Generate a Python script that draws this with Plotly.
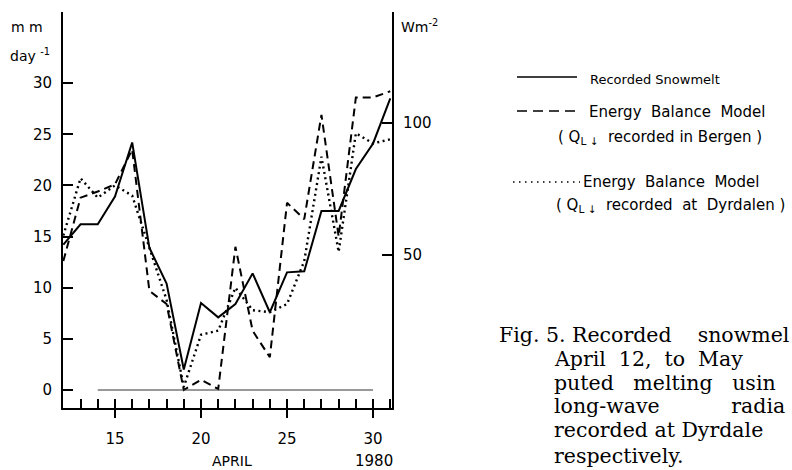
import plotly.graph_objects as go

# ---- data ----
days = list(range(12, 32))
recorded_snowmelt = [14.2, 16.2, 16.2, 18.9, 24.2, 13.9, 10.4, 2.0, 8.5, 7.1,
                     8.4, 11.4, 7.6, 11.5, 11.6, 17.5, 17.5, 21.6, 24.1, 28.5]
ebm_bergen = [12.6, 18.8, 19.4, 20.1, 23.5, 9.7, 8.4, 0.0, 1.0, 0.1,
              14.0, 5.8, 3.2, 18.3, 16.7, 26.9, 15.0, 28.6, 28.6, 29.2]
ebm_dyrdalen = [15.1, 20.7, 18.8, 20.0, 19.0, 14.0, 8.8, 0.3, 5.4, 5.8,
                10.0, 7.8, 7.6, 8.4, 12.6, 22.8, 13.5, 25.1, 24.1, 24.5]
zero_days = [14, 30]
zero_vals = [0, 0]

left_ticks = [0, 5, 10, 15, 20, 25, 30]
right_ticks = [50, 100]
major_x_ticks = [15, 20, 25, 30]

W, H = 792, 470
L, R, T, B = 63, 392, 12, 408


def px(x):
    return (x - L) / (R - L)


def py(y):
    return (B - y) / (B - T)


SANS = "DejaVu Sans"
SERIF = "DejaVu Serif"
NB = "\u00a0"

fig = go.Figure()
fig.add_trace(go.Scatter(x=days, y=recorded_snowmelt, mode="lines",
                         line=dict(color="black", width=2)))
fig.add_trace(go.Scatter(x=days, y=ebm_bergen, mode="lines",
                         line=dict(color="black", width=2, dash="8px,5px")))
fig.add_trace(go.Scatter(x=days, y=ebm_dyrdalen, mode="lines",
                         line=dict(color="black", width=2.4, dash="2px,3.5px")))
fig.add_trace(go.Scatter(x=zero_days, y=zero_vals, mode="lines", xaxis="x2",
                         line=dict(color="#333", width=1)))
# invisible carrier so the right-hand (W m-2) axis gets its ticks drawn
fig.add_trace(go.Scatter(x=zero_days, y=zero_vals, mode="lines", yaxis="y2",
                         line=dict(color="rgba(0,0,0,0)", width=0),
                         hoverinfo="skip"))

xr = [11.98, 31.1]
fig.update_layout(
    width=W, height=H, showlegend=False,
    margin=dict(l=L, r=W - R, t=T, b=H - B, pad=0),
    plot_bgcolor="white", paper_bgcolor="white",
    font=dict(family=SANS, color="black", size=15),
    xaxis=dict(range=xr, showline=True, linecolor="black", linewidth=2,
               ticks="inside", tick0=12, dtick=1, ticklen=9, tickwidth=1.5,
               tickcolor="black", showticklabels=False, showgrid=False,
               zeroline=False, fixedrange=True),
    xaxis2=dict(range=xr, overlaying="x", anchor="y", side="bottom",
                tickmode="array", tickvals=major_x_ticks,
                ticktext=[str(v) for v in major_x_ticks],
                ticks="outside", ticklen=9, tickwidth=1.5, tickcolor="black",
                showgrid=False, zeroline=False, showline=False,
                ticklabelstandoff=8, tickfont=dict(size=15)),
    yaxis=dict(range=[-1.76, 36.95], showline=True, linecolor="black",
               linewidth=2, ticks="inside", tickmode="array",
               tickvals=left_ticks, ticklen=10, tickwidth=1.5,
               tickcolor="black", showgrid=False, zeroline=False,
               ticklabelstandoff=6),
    yaxis2=dict(range=[-7.95, 142], overlaying="y", side="right", anchor="x",
                showline=True, linecolor="black", linewidth=2,
                ticks="inside", tickmode="array", tickvals=right_ticks,
                ticktext=[str(v) for v in right_ticks],
                ticklen=10, tickwidth=1.5, tickcolor="black",
                showgrid=False, zeroline=False, ticklabelstandoff=6),
)

ann = []


def add_text(text, x, y, xanchor="left", size=15, family=SANS):
    ann.append(dict(text=text, x=px(x), y=py(y), xref="paper", yref="paper",
                    xanchor=xanchor, yanchor="middle", showarrow=False,
                    font=dict(size=size, family=family, color="black")))


add_text("m m", 9, 27, size=14)
add_text("day <sup>-1</sup>", 8, 55, size=14)
add_text("Wm<sup>-2</sup>", 399, 26, size=14)
add_text("APRIL", 232, 461, xanchor="center", size=14)
add_text("1980", 374, 461, xanchor="center", size=15)

# legend
add_text("Recorded Snowmelt", 588, 79, size=13)
add_text("Energy" + NB * 2 + "Balance" + NB * 2 + "Model", 587, 112, size=15)
add_text("(" + NB + "Q<sub>L ↓</sub>" + NB * 2 + "recorded in Bergen" + NB + ")",
         556, 137, size=15)
add_text("Energy" + NB * 2 + "Balance" + NB * 2 + "Model", 581, 182, size=15)
add_text("(" + NB + "Q<sub>L ↓</sub>" + NB * 2 + "recorded" + NB * 2 + "at" + NB * 2
         + "Dyrdalen" + NB + ")", 554, 205, size=15)

shapes = [
    dict(type="line", xref="paper", yref="paper", x0=px(517), x1=px(577),
         y0=py(77), y1=py(77), line=dict(color="black", width=1.5)),
    dict(type="line", xref="paper", yref="paper", x0=px(517), x1=px(577),
         y0=py(111), y1=py(111), line=dict(color="black", width=1.5, dash="10px,6px")),
    dict(type="line", xref="paper", yref="paper", x0=px(513), x1=px(580),
         y0=py(182), y1=py(182), line=dict(color="black", width=1.5, dash="1.5px,4.5px")),
]

# caption (cut off at the right edge in the reference)
cap = [
    ("Fig. 5. Recorded" + NB * 4 + "snowmel", 497, 335),
    ("April" + NB * 2 + "12," + NB * 2 + "to" + NB * 2 + "May", 552, 359),
    ("puted" + NB * 3 + "melting" + NB * 3 + "usin", 552, 383),
    ("long-wave" + NB * 11 + "radia", 552, 406),
    ("recorded at Dyrdale", 552, 430),
    ("respectively.", 552, 456),
]
for t, x, y in cap:
    add_text(t, x, y, size=20.5, family=SERIF)

fig.update_layout(annotations=ann, shapes=shapes)
fig.write_html("out.html", config={"displayModeBar": False},
               post_script="document.body.style.margin='0';")
